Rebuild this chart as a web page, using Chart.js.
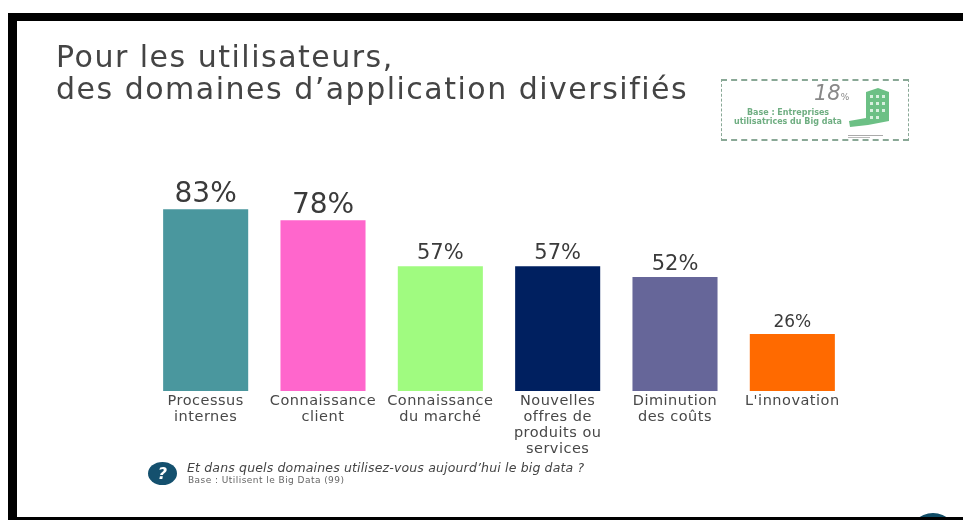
<!DOCTYPE html>
<html>
<head>
<meta charset="utf-8">
<style>
  html, body { margin: 0; padding: 0; background: #fff; }
  #page { position: relative; width: 963px; height: 520px; overflow: hidden; background: #fff; font-family: "DejaVu Sans", sans-serif; color: #333; }
  #frame { position: absolute; left: 8px; top: 13px; width: 960px; height: 507px; box-sizing: border-box; border: solid #000; border-width: 8px 0 3px 9px; }
  #chartBox { position: absolute; left: 0; top: 0; width: 963px; height: 520px; }
  #title { position: absolute; left: 56px; top: 41px; font-size: 30px; line-height: 32px; color: #444; letter-spacing: 1.5px; white-space: nowrap; }
  #inset { position: absolute; left: 721px; top: 79px; width: 188px; height: 62px; box-sizing: border-box; border: dashed #89a896; border-width: 2px 1px; }
  #insetPct { position: absolute; left: 92px; top: 0; font-size: 21px; font-style: italic; color: #888; }
  #insetPct small { font-size: 9px; font-style: normal; }
  #insetBase { position: absolute; left: 2px; top: 27px; width: 128px; text-align: center; font-size: 8px; line-height: 9px; color: #6fae82; font-weight: bold; }
  #insetIcon { position: absolute; left: 126px; top: 6px; }
  #quest { position: absolute; left: 148px; top: 462px; width: 29px; height: 23px; border-radius: 50%; background: #14506e; color: #fff; font: italic bold 16px/23px "DejaVu Sans", sans-serif; text-align: center; }
  #question { position: absolute; left: 187px; top: 460px; font-size: 12.5px; font-style: italic; color: #444; letter-spacing: .16px; white-space: nowrap; }
  #base { position: absolute; left: 188px; top: 475px; font-size: 9px; color: #666; letter-spacing: .45px; white-space: nowrap; }
  #corner { position: absolute; left: 908px; top: 513px; width: 50px; height: 50px; border-radius: 50%; background: #0f4c66; }
</style>
<script src="https://cdn.jsdelivr.net/npm/chart.js@4"></script>
</head>
<body>
<div id="page">
  <div id="chartBox"><canvas id="usageBar" width="963" height="520"></canvas></div>
  <div id="corner"></div>
  <div id="frame"></div>
  <div id="title">Pour les utilisateurs,<br>des domaines d’application diversifiés</div>
  <div id="inset">
    <div id="insetPct">18<small>%</small></div>
    <div id="insetBase">Base : Entreprises<br>utilisatrices du Big data</div>
    <svg id="insetIcon" width="42" height="52" viewBox="0 0 42 52">
      <path d="M18 5 L30 1 L41 5 L41 34 L20 38 L2 40 L1 34 L18 31 Z" fill="#6cc085"/>
      <g fill="#d8f0df">
        <rect x="22" y="8" width="3" height="3"/><rect x="28" y="8" width="3" height="3"/><rect x="34" y="8" width="3" height="3"/>
        <rect x="22" y="15" width="3" height="3"/><rect x="28" y="15" width="3" height="3"/><rect x="34" y="15" width="3" height="3"/>
        <rect x="22" y="22" width="3" height="3"/><rect x="28" y="22" width="3" height="3"/><rect x="34" y="22" width="3" height="3"/>
        <rect x="22" y="29" width="3" height="3"/><rect x="28" y="29" width="3" height="3"/>
      </g>
      <rect x="0" y="48" width="35" height="1" fill="#aaa"/>
      <rect x="0" y="50" width="22" height="1" fill="#bbb"/>
    </svg>
  </div>
  <div id="quest">?</div>
  <div id="question">Et dans quels domaines utilisez-vous aujourd’hui le big data ?</div>
  <div id="base">Base : Utilisent le Big Data (99)</div>
</div>
<script>
const domains = [
    ['Processus', 'internes'],
    ['Connaissance', 'client'],
    ['Connaissance', 'du marché'],
    ['Nouvelles', 'offres de', 'produits ou', 'services'],
    ['Diminution', 'des coûts'],
    ["L'innovation"]
];
const usagePct = [83, 78, 57, 57, 52, 26];
const barColors = ['#4a979e', '#ff66cc', '#a0fb80', '#002060', '#666699', '#ff6a00'];
const labelSizes = [28, 28, 21, 21, 21, 17];

// Writes the percentage above each bar, larger for the leading domains
const valueLabels = {
    id: 'valueLabels',
    beforeDraw(chart) {
        // tick labels are spaced out a little
        chart.ctx.letterSpacing = '0.5px';
    },
    afterDatasetsDraw(chart) {
        const ctx = chart.ctx;
        const bars = chart.getDatasetMeta(0).data;
        ctx.save();
        ctx.letterSpacing = '0px';
        ctx.textAlign = 'center';
        ctx.textBaseline = 'alphabetic';
        ctx.fillStyle = '#3a3a3a';
        bars.forEach((bar, i) => {
            ctx.font = `${labelSizes[i]}px "DejaVu Sans", sans-serif`;
            ctx.fillText(usagePct[i] + '%', bar.x, bar.y - 7);
        });
        ctx.restore();
    }
};

new Chart(document.getElementById('usageBar'), {
    type: 'bar',
    data: {
        labels: domains,
        datasets: [{
            data: usagePct,
            backgroundColor: barColors,
            categoryPercentage: 1,
            barPercentage: 0.725
        }]
    },
    options: {
        responsive: false,
        animation: false,
        layout: { padding: { left: 147, right: 112, top: 172, bottom: 0 } },
        plugins: { legend: { display: false }, tooltip: { enabled: false } },
        scales: {
            y: { display: false, min: 0, max: 100 },
            x: {
                afterFit(scale) { scale.height = 129; },
                grid: { display: false, drawTicks: false },
                border: { display: false },
                ticks: {
                    color: '#484848',
                    maxRotation: 0,
                    autoSkip: false,
                    padding: 2,
                    font: { family: '"DejaVu Sans", sans-serif', size: 14.5, lineHeight: 1.1 }
                }
            }
        }
    },
    plugins: [valueLabels]
});
</script>
</body>
</html>
